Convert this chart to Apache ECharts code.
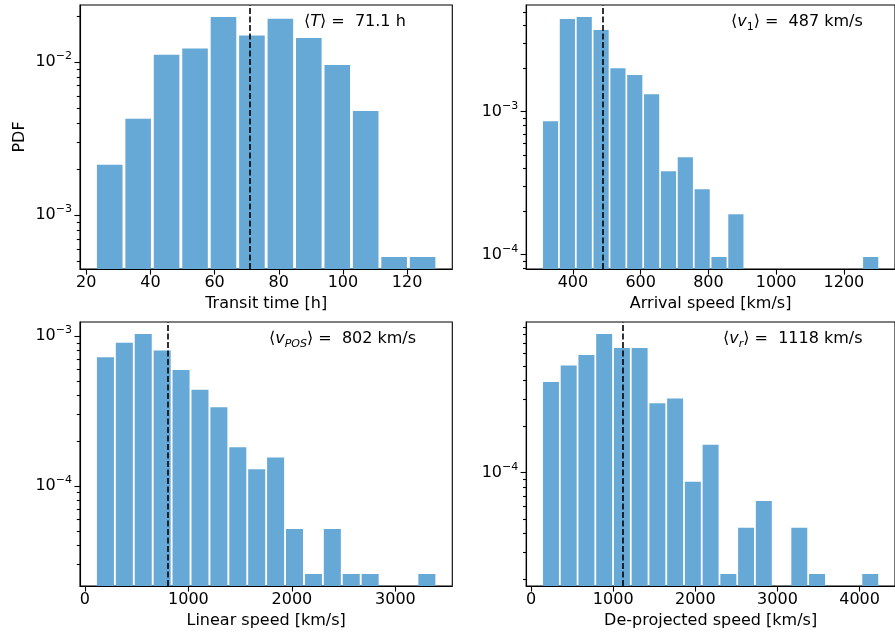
<!DOCTYPE html>
<html>
<head>
<meta charset="utf-8">
<script src="https://cdn.jsdelivr.net/npm/echarts@6/dist/echarts.min.js"></script>
<style>
html, body { margin: 0; padding: 0; background: #fff; }
#chart { width: 895px; height: 634px; }
</style>
</head>
<body>
<div id="chart"></div>
<script>
// ---------- data ----------
// Transit time [h]
const transitEdges = [22.87, 31.74, 40.60, 49.47, 58.33, 67.20, 76.07, 84.93, 93.80, 102.66, 111.53, 120.40, 129.26];
const transitPdf = [2.12e-3, 4.24e-3, 1.112e-2, 1.218e-2, 1.96e-2, 1.483e-2, 1.906e-2, 1.43e-2, 9.53e-3, 4.77e-3, 5.3e-4, 5.3e-4];
const transitMean = '71.1';

// Arrival speed [km/s]
const arrivalEdges = [309.0, 358.7, 408.5, 458.2, 508.0, 557.7, 607.4, 657.2, 706.9, 756.7, 806.4, 856.1, 905.9, 955.6, 1005.4, 1055.1, 1104.8, 1154.6, 1204.3, 1254.1, 1303.8];
const arrivalPdf = [8.55e-4, 4.44e-3, 4.58e-3, 3.72e-3, 2.01e-3, 1.80e-3, 1.32e-3, 3.82e-4, 4.79e-4, 2.86e-4, 9.6e-5, 1.91e-4, 0, 0, 0, 0, 0, 0, 0, 9.6e-5];
const arrivalMean = '487';

// Linear speed [km/s]
const linearEdges = [106.6, 289.3, 472.0, 654.7, 837.4, 1020.1, 1202.8, 1385.5, 1568.2, 1750.9, 1933.6, 2116.3, 2299.0, 2481.7, 2664.4, 2847.1, 3029.8, 3212.5, 3395.2];
const linearPdf = [7.2e-4, 8.99e-4, 1.028e-3, 7.97e-4, 5.91e-4, 4.37e-4, 3.34e-4, 1.80e-4, 1.285e-4, 1.54e-4, 5.14e-5, 2.57e-5, 5.14e-5, 2.57e-5, 2.57e-5, 0, 0, 2.57e-5];
const linearMean = '802';

// De-projected speed [km/s]
const deprojEdges = [133.6, 349.6, 565.6, 781.6, 997.6, 1213.6, 1429.6, 1645.6, 1861.6, 2077.6, 2293.6, 2509.6, 2725.6, 2941.6, 3157.6, 3373.6, 3589.6, 3805.6, 4021.6, 4237.6];
const deprojPdf = [3.91e-4, 5.0e-4, 5.87e-4, 8.04e-4, 6.52e-4, 6.52e-4, 2.83e-4, 3.04e-4, 8.69e-5, 1.52e-4, 2.17e-5, 4.35e-5, 6.52e-5, 0, 4.35e-5, 2.17e-5, 0, 0, 2.17e-5];
const deprojMean = '1118';

const xTitles = ['Transit time [h]', 'Arrival speed [km/s]', 'Linear speed [km/s]', 'De-projected speed [km/s]'];
const yTitle = 'PDF';

// ---------- styling / layout ----------
const FONT = "'DejaVu Sans', sans-serif";
const BAR = '#66a9d6';
const INK = '#000';

const panels = [
  { edges: transitEdges, pdf: transitPdf, mean: transitMean, left: 80, top: 5,
    label: '{n|⟨}{i|T}{n|⟩ =  ' + transitMean + ' h}', lx: 304, ly: 22 },
  { edges: arrivalEdges, pdf: arrivalPdf, mean: arrivalMean, left: 526.2, top: 5,
    label: '{n|⟨}{i|v}{sub|1}{n|⟩ =  ' + arrivalMean + ' km/s}', lx: 731, ly: 22 },
  { edges: linearEdges, pdf: linearPdf, mean: linearMean, left: 80, top: 322,
    label: '{n|⟨}{i|v}{subi|POS}{n|⟩ =  ' + linearMean + ' km/s}', lx: 269, ly: 339 },
  { edges: deprojEdges, pdf: deprojPdf, mean: deprojMean, left: 526.2, top: 322,
    label: '{n|⟨}{i|v}{subi|r}{n|⟩ =  ' + deprojMean + ' km/s}', lx: 723, ly: 339 }
];
const GW = 372.3, GH = 264;

// matplotlib-like autoscaling (5 % margins)
function xRange(edges) {
  const n = edges.length - 1;
  const lo = edges[0] + 0.05 * (edges[1] - edges[0]);
  const hi = edges[n] - 0.05 * (edges[n] - edges[n - 1]);
  const m = 0.05 * (hi - lo);
  return [lo - m, hi + m];
}
function yRange(vals) {
  const pos = vals.filter(v => v > 0).map(Math.log10);
  const a = Math.min(...pos), b = Math.max(...pos), m = 0.05 * (b - a);
  return [Math.pow(10, a - m), Math.pow(10, b + m)];
}
function yTicks(xmin, r) {
  const out = [];
  const e0 = Math.floor(Math.log10(r[0])), e1 = Math.ceil(Math.log10(r[1]));
  for (let e = e0; e <= e1; e++) {
    for (let k = 1; k <= 9; k++) {
      const v = k * Math.pow(10, e);
      if (v >= r[0] && v <= r[1]) out.push([xmin, v, k === 1 ? 1 : 0]);
    }
  }
  return out;
}

function barItem(params, api) {
  const lo = api.value(0), hi = api.value(1), v = api.value(2);
  const w = hi - lo;
  const cs = params.coordSys;
  const a = api.coord([lo + 0.05 * w, v]);
  const b = api.coord([hi - 0.05 * w, v]);
  return {
    type: 'rect',
    shape: { x: a[0], y: a[1], width: b[0] - a[0], height: cs.y + cs.height - a[1] },
    style: { fill: BAR }
  };
}
function tickItem(params, api) {
  const p = api.coord([api.value(0), api.value(1)]);
  const len = api.value(2) ? 5.6 : 3.2;
  const y = Math.round(p[1]) + 0.5;
  return {
    type: 'line',
    shape: { x1: p[0] - len, y1: y, x2: p[0], y2: y },
    style: { stroke: INK, lineWidth: 1.1 }
  };
}

const supRich = {
  b: { fontSize: 16, fontFamily: FONT, color: INK, lineHeight: 22, verticalAlign: 'middle' },
  s: { fontSize: 11, fontFamily: FONT, color: INK, lineHeight: 12, verticalAlign: 'top' }
};
function logLabel(v) {
  const l = Math.log10(v);
  const e = Math.round(l);
  if (Math.abs(l - e) > 1e-6) return '';
  return '{b|10}{s|' + (e < 0 ? '\u2212' + (-e) : e) + '}';
}
function plainLabel(v) {
  return String(Math.round(v * 1000) / 1000);
}

const grids = [], xAxes = [], yAxes = [], series = [], graphics = [];
panels.forEach((p, i) => {
  const xr = xRange(p.edges), yr = yRange(p.pdf);
  grids.push({ left: p.left, top: p.top, width: GW, height: GH, show: true,
    borderColor: INK, borderWidth: 1.1, backgroundColor: 'transparent', containLabel: false });
  xAxes.push({
    type: 'value', gridIndex: i, min: xr[0], max: xr[1], z: 10,
    axisLine: { show: true, onZero: false, lineStyle: { color: INK, width: 1.1 } },
    axisTick: { show: true, length: 5.6, lineStyle: { color: INK, width: 1.1 } },
    axisLabel: { fontSize: 16, fontFamily: FONT, color: INK, margin: 6, showMinLabel: false, showMaxLabel: false,
      formatter: plainLabel },
    splitLine: { show: false },
    name: xTitles[i], nameLocation: 'middle', nameGap: 27,
    nameTextStyle: { fontSize: 16, fontFamily: FONT, color: INK }
  });
  const ya = {
    type: 'log', logBase: 10, gridIndex: i, min: yr[0], max: yr[1], z: 10,
    axisLine: { show: true, onZero: false, lineStyle: { color: INK, width: 1.1 } },
    axisTick: { show: false },
    minorTick: { show: false },
    axisLabel: { formatter: logLabel, rich: supRich, margin: 8, showMinLabel: true, showMaxLabel: true },
    splitLine: { show: false }
  };
  if (i === 0) {
    ya.name = yTitle; ya.nameLocation = 'middle'; ya.nameGap = 52; ya.nameRotate = 90;
    ya.nameTextStyle = { fontSize: 16, fontFamily: FONT, color: INK };
  }
  yAxes.push(ya);

  const bars = [];
  p.pdf.forEach((v, k) => { if (v > 0) bars.push([p.edges[k], p.edges[k + 1], v]); });
  series.push({
    type: 'custom', xAxisIndex: i, yAxisIndex: i, silent: true, clip: true,
    encode: { x: [0, 1], y: 2 }, data: bars, renderItem: barItem, z: 2,
    markLine: {
      silent: true, symbol: 'none', animation: false,
      label: { show: false },
      lineStyle: { type: [5.9, 2.6], color: INK, width: 1.6 },
      data: [{ xAxis: parseFloat(p.mean) }]
    }
  });
  series.push({
    type: 'custom', xAxisIndex: i, yAxisIndex: i, silent: true, clip: false,
    encode: { x: 0, y: 1 }, data: yTicks(xr[0], yr), renderItem: tickItem, z: 12
  });

  graphics.push({
    type: 'text', x: p.lx, y: p.ly, z: 20, silent: true,
    style: {
      text: p.label, fill: INK, fontSize: 16, fontFamily: FONT, verticalAlign: 'middle',
      rich: {
        n: { fontSize: 16, fontFamily: FONT, fill: INK, lineHeight: 22, verticalAlign: 'middle' },
        i: { fontSize: 16, fontFamily: FONT, fontStyle: 'italic', fill: INK, lineHeight: 22, verticalAlign: 'middle' },
        sub: { fontSize: 11, fontFamily: FONT, fill: INK, lineHeight: 12, verticalAlign: 'bottom' },
        subi: { fontSize: 11, fontFamily: FONT, fontStyle: 'italic', fill: INK, lineHeight: 12, verticalAlign: 'bottom' }
      }
    }
  });
});

const chart = echarts.init(document.getElementById('chart'), null, { renderer: 'canvas' });
chart.setOption({
  animation: false,
  backgroundColor: '#fff',
  grid: grids,
  xAxis: xAxes,
  yAxis: yAxes,
  series: series,
  graphic: graphics
});
</script>
</body>
</html>
